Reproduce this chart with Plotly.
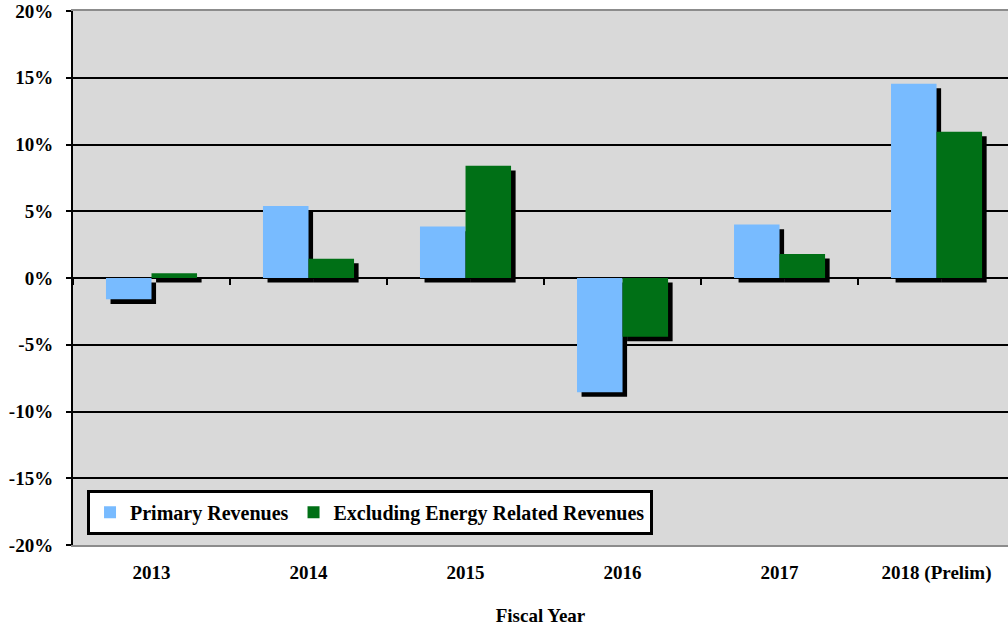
import plotly.graph_objects as go

years = ['2013', '2014', '2015', '2016', '2017', '2018 (Prelim)']
primary = [-1.6, 5.4, 3.85, -8.55, 4.0, 14.55]
excl_energy = [0.35, 1.45, 8.4, -4.4, 1.8, 10.95]
y_ticks = [-20, -15, -10, -5, 0, 5, 10, 15, 20]

blue = '#78BBFF'
green = '#007016'
serif = 'Liberation Serif, Times New Roman, serif'

# shadow offset in axis units (about 4-5 px right and down)
sx = 0.029
sy = 0.34
xr = [-0.5, 5.455]
yr = [-20, 20]

fig = go.Figure()

# black drop shadows on the base axes (shifted range)
for vals in (primary, excl_energy):
    fig.add_trace(go.Bar(x=years, y=vals, marker=dict(color='black', line=dict(width=0)),
                         showlegend=False, hoverinfo='skip', xaxis='x', yaxis='y'))

fig.add_trace(go.Bar(x=years, y=primary, name='Primary Revenues',
                     marker=dict(color=blue, line=dict(width=0)), xaxis='x2', yaxis='y2'))
fig.add_trace(go.Bar(x=years, y=excl_energy, name='Excluding Energy Related Revenues',
                     marker=dict(color=green, line=dict(width=0)), xaxis='x2', yaxis='y2'))

# invisible helper so the zero-line tick axis gets drawn
fig.add_trace(go.Scatter(x=years, y=primary, mode='none', showlegend=False,
                         hoverinfo='skip', xaxis='x3', yaxis='y2'))

fig.update_layout(
    width=1008, height=627,
    margin=dict(l=73, r=0, t=11, b=82),
    paper_bgcolor='white',
    plot_bgcolor='#D9D9D9',
    font=dict(family=serif, size=19, color='black', weight='bold'),
    barmode='group',
    bargap=0.42,
    bargroupgap=0,
    showlegend=True,
    legend=dict(orientation='h', x=0.015, y=0.019, xanchor='left', yanchor='bottom',
                bgcolor='white', bordercolor='black', borderwidth=3,
                font=dict(family=serif, size=20, color='black', weight='bold'),
                itemsizing='constant', traceorder='normal'),
    xaxis=dict(type='category', range=[xr[0] - sx, xr[1] - sx], visible=False,
               categoryorder='array', categoryarray=years),
    yaxis=dict(range=[yr[0] + sy, yr[1] + sy], visible=False),
    xaxis2=dict(type='category', overlaying='x', anchor='y2', side='bottom',
                range=xr, categoryorder='array', categoryarray=years,
                showgrid=False, showline=True, linecolor='#8C8C8C', linewidth=2, mirror=True,
                ticks='', ticklabelstandoff=9,
                tickfont=dict(family=serif, size=19, color='black', weight='bold'),
                title=dict(text='Fiscal Year', standoff=26,
                           font=dict(family=serif, size=19, color='black', weight='bold'))),
    yaxis2=dict(overlaying='y', anchor='x2', side='left', range=yr,
                tickvals=y_ticks, ticktext=[f'{v}%' for v in y_ticks],
                showgrid=True, gridcolor='black', gridwidth=1.6,
                zeroline=True, zerolinecolor='black', zerolinewidth=1.6,
                showline=True, linecolor='black', linewidth=2,
                ticks='outside', ticklen=5, tickwidth=2, tickcolor='black',
                ticklabelstandoff=9,
                tickfont=dict(family=serif, size=19, color='black', weight='bold')),
    # category ticks sitting on the zero line
    xaxis3=dict(type='category', overlaying='x', anchor='free', position=0.5, side='bottom',
                range=xr, categoryorder='array', categoryarray=years,
                tickson='boundaries', ticks='outside', ticklen=6, tickwidth=2, tickcolor='black',
                showticklabels=False, showgrid=False, showline=False, zeroline=False),
)

fig.write_html('out.html', config={'displayModeBar': False},
               post_script="document.body.style.margin='0';document.body.style.overflow='hidden';")
